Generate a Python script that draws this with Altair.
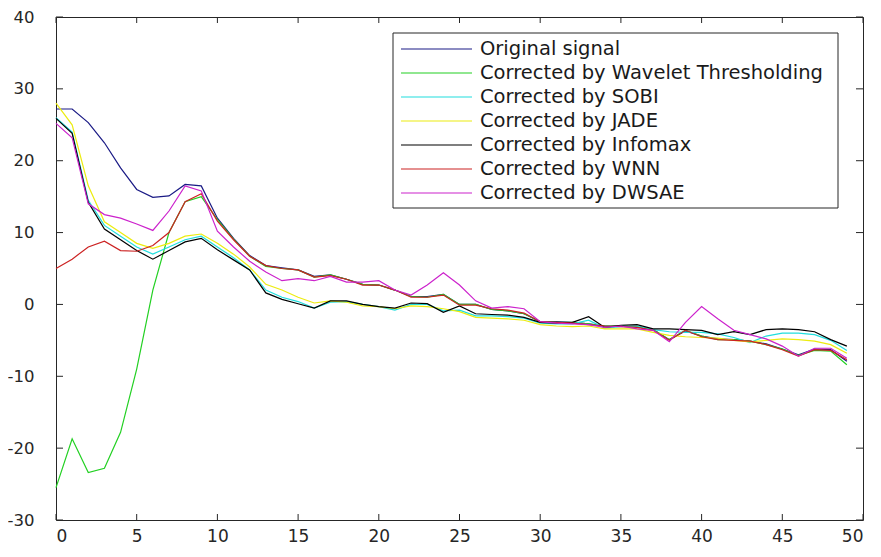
import altair as alt
import pandas as pd

x_vals = list(range(50))

series_names = [
    "Original signal",
    "Corrected by Wavelet Thresholding",
    "Corrected by SOBI",
    "Corrected by JADE",
    "Corrected by Infomax",
    "Corrected by WNN",
    "Corrected by DWSAE",
]
series_colors = ["#1a1a85", "#22d022", "#20dede", "#ecec10", "#000000", "#cc2222", "#cc22cc"]

original = [27.2, 27.2, 25.3, 22.5, 19.0, 16.0, 14.9, 15.1, 16.7, 16.5,
            12.0, 9.2, 6.8, 5.4, 5.1, 4.8, 3.9, 4.1, 3.5, 2.8,
            2.7, 2.0, 1.1, 1.1, 1.4, 0.0, 0.0, -0.7, -0.9, -1.3,
            -2.4, -2.4, -2.5, -2.7, -3.0, -3.0, -3.1, -3.5, -4.9, -3.7,
            -4.4, -4.8, -4.9, -5.1, -5.5, -6.2, -7.0, -6.2, -6.3, -7.9]
wavelet = [-25.5, -18.7, -23.4, -22.8, -17.8, -9.0, 2.0, 10.0, 14.3, 15.0,
           11.8, 9.1, 6.7, 5.3, 5.0, 4.8, 3.8, 4.1, 3.5, 2.8,
           2.7, 2.0, 1.1, 1.0, 1.4, 0.0, 0.0, -0.7, -0.9, -1.3,
           -2.4, -2.5, -2.5, -2.7, -3.0, -3.0, -3.1, -3.5, -4.9, -3.6,
           -4.4, -4.9, -4.9, -5.1, -5.6, -6.2, -7.1, -6.4, -6.5, -8.4]
sobi = [26.0, 24.0, 14.5, 11.0, 9.5, 8.0, 7.0, 8.0, 9.0, 9.5,
        8.0, 6.5, 4.8, 2.0, 1.0, 0.4, -0.5, 0.3, 0.4, 0.0,
        -0.3, -0.8, 0.0, 0.0, -0.9, -0.8, -1.6, -1.6, -1.7, -1.9,
        -2.6, -2.7, -2.7, -2.2, -3.3, -3.1, -3.0, -3.5, -3.8, -3.9,
        -3.9, -4.1, -4.6, -5.3, -4.4, -4.0, -4.0, -4.2, -5.0, -6.4]
jade = [28.0, 25.0, 16.5, 11.5, 10.0, 8.5, 7.8, 8.5, 9.5, 9.8,
        8.5, 7.0, 5.2, 2.8, 2.0, 1.0, 0.2, 0.5, 0.3, -0.2,
        -0.3, -0.6, -0.2, -0.3, -0.6, -1.0, -1.8, -1.9, -2.0, -2.2,
        -2.8, -3.0, -3.1, -3.0, -3.4, -3.4, -3.4, -3.9, -4.3, -4.5,
        -4.6, -4.7, -5.0, -5.2, -5.0, -4.8, -4.9, -5.1, -5.6, -6.8]
infomax = [25.9, 23.8, 14.2, 10.5, 9.0, 7.5, 6.3, 7.5, 8.7, 9.2,
           7.6, 6.2, 4.8, 1.6, 0.7, 0.1, -0.5, 0.5, 0.5, 0.0,
           -0.3, -0.5, 0.2, 0.1, -1.1, -0.2, -1.3, -1.4, -1.5, -1.8,
           -2.5, -2.6, -2.5, -1.7, -3.2, -2.9, -2.8, -3.4, -3.4, -3.5,
           -3.6, -4.2, -3.8, -4.2, -3.5, -3.4, -3.5, -3.8, -4.9, -5.8]
wnn = [5.0, 6.3, 8.0, 8.8, 7.5, 7.4, 8.2, 10.0, 14.3, 15.4,
       11.6, 9.0, 6.7, 5.4, 5.0, 4.8, 3.8, 4.0, 3.5, 2.7,
       2.7, 2.0, 1.0, 1.0, 1.3, -0.1, -0.1, -0.6, -0.8, -1.2,
       -2.4, -2.5, -2.6, -2.8, -3.0, -3.1, -3.2, -3.6, -5.0, -3.6,
       -4.5, -4.9, -5.0, -5.1, -5.6, -6.3, -7.2, -6.3, -6.4, -7.7]
dwsae = [25.2, 23.2, 14.0, 12.5, 12.0, 11.2, 10.3, 13.0, 16.5, 15.8,
         10.2, 8.0, 6.0, 4.5, 3.3, 3.6, 3.3, 3.9, 3.1, 3.1,
         3.3, 2.0, 1.3, 2.7, 4.4, 2.7, 0.5, -0.5, -0.3, -0.6,
         -2.4, -2.6, -2.7, -2.8, -3.2, -3.0, -3.4, -3.6, -5.2, -2.5,
         -0.3, -2.0, -3.6, -4.2, -4.8, -5.8, -7.2, -6.1, -6.1, -7.5]

x_ticks = [0, 5, 10, 15, 20, 25, 30, 35, 40, 45, 50]
y_ticks = [-30, -20, -10, 0, 10, 20, 30, 40]

all_series = [original, wavelet, sobi, jade, infomax, wnn, dwsae]
rows = []
for name, vals in zip(series_names, all_series):
    for xv, yv in zip(x_vals, vals):
        rows.append({"x": xv, "y": yv, "series": name})
df = pd.DataFrame(rows)

W, H = 807, 503
FONT = "DejaVu Sans"
TXT = "#262626"
LABEL_EXPR = "'' + datum.value"

xscale = alt.Scale(domain=[0, 50], nice=False, zero=False)
yscale = alt.Scale(domain=[-30, 40], nice=False, zero=False)
cscale = alt.Scale(domain=series_names, range=series_colors)

lines = alt.Chart(df).mark_line(strokeWidth=1.2).encode(
    x=alt.X("x:Q", scale=xscale,
            axis=alt.Axis(values=x_ticks, title=None, ticks=False, domain=False, grid=False,
                          labelExpr=LABEL_EXPR,
                          labelFont=FONT, labelFontSize=17, labelColor=TXT, labelPadding=8)),
    y=alt.Y("y:Q", scale=yscale,
            axis=alt.Axis(values=y_ticks, title=None, ticks=False, domain=False, grid=False,
                          labelExpr=LABEL_EXPR,
                          labelFont=FONT, labelFontSize=16.5, labelColor=TXT, labelPadding=22)),
    color=alt.Color("series:N", scale=cscale, legend=None),
    detail="series:N",
)

xt = pd.DataFrame({"t": x_ticks})
yt = pd.DataFrame({"t": y_ticks})
xtick_b = alt.Chart(xt).mark_rule(color=TXT).encode(
    x=alt.X("t:Q", scale=xscale, axis=None), y=alt.value(H), y2=alt.value(H - 6))
xtick_t = alt.Chart(xt).mark_rule(color=TXT).encode(
    x=alt.X("t:Q", scale=xscale, axis=None), y=alt.value(0), y2=alt.value(6))
ytick_l = alt.Chart(yt).mark_rule(color=TXT).encode(
    y=alt.Y("t:Q", scale=yscale, axis=None), x=alt.value(0), x2=alt.value(7))
ytick_r = alt.Chart(yt).mark_rule(color=TXT).encode(
    y=alt.Y("t:Q", scale=yscale, axis=None), x=alt.value(W - 7), x2=alt.value(W))

leg_df = pd.DataFrame({"series": series_names, "idx": list(range(len(series_names)))})
leg_scale = alt.Scale(domain=[0, 6], range=[32, 176], nice=False, zero=False)

leg_box = alt.Chart(pd.DataFrame({"k": [0]})).mark_rect(
    fill="white", stroke=TXT, strokeWidth=1).encode(
    x=alt.value(337), x2=alt.value(782), y=alt.value(16), y2=alt.value(191))
leg_lines = alt.Chart(leg_df).mark_rule(strokeWidth=1.2).encode(
    x=alt.value(345), x2=alt.value(416),
    y=alt.Y("idx:Q", scale=leg_scale, axis=None),
    color=alt.Color("series:N", scale=cscale, legend=None))
leg_text = alt.Chart(leg_df).mark_text(
    align="left", baseline="middle", font=FONT, fontSize=19.5, color="#1a1a1a").encode(
    x=alt.value(424),
    y=alt.Y("idx:Q", scale=leg_scale, axis=None),
    text="series:N")

chart = alt.layer(
    lines, leg_box, leg_lines, leg_text, xtick_b, xtick_t, ytick_l, ytick_r
).resolve_scale(
    x="independent", y="independent", color="shared"
).properties(
    width=W, height=H,
    autosize=alt.AutoSizeParams(type="none"),
    padding={"left": 48, "top": 9, "right": 8, "bottom": 24},
    background="white",
).configure_view(stroke=TXT, strokeWidth=1)

chart.save("out.html", embed_options={"renderer": "svg", "actions": False})
